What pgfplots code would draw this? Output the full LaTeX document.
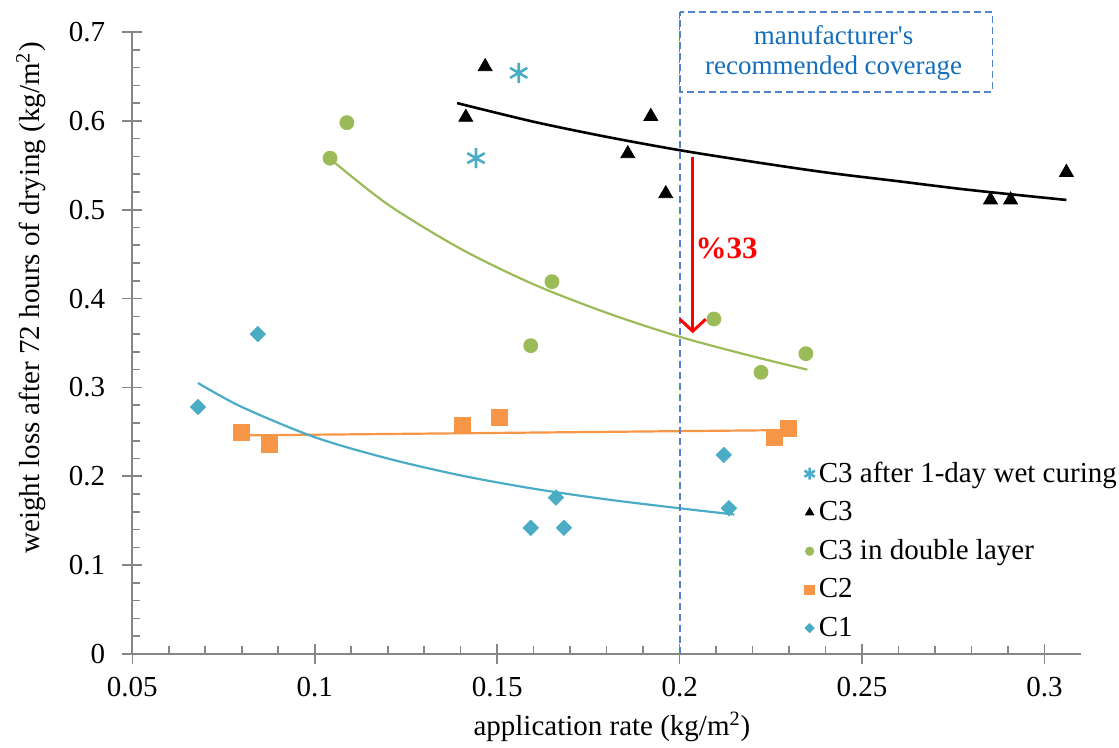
\documentclass[border=0pt]{standalone}
\usepackage{pgfplots}
\pgfplotsset{compat=1.18}
\usepackage{fontspec}
\setmainfont{Liberation Serif}
\usetikzlibrary{arrows.meta}
\definecolor{cteal}{RGB}{75,172,198}
\definecolor{cgreen}{RGB}{155,187,89}
\definecolor{corange}{RGB}{247,150,70}
\definecolor{axgray}{RGB}{134,134,134}
\definecolor{dashblue}{RGB}{80,130,205}
\definecolor{txtblue}{RGB}{20,110,190}
\pgfplotsset{mklegend/.style={legend image code/.code={\draw[##1, every mark/.append style={scale=0.6}] plot coordinates {(0pt,0pt)};}}}
\begin{document}
\begin{tikzpicture}[font=\fontsize{14.5}{17}\selectfont]
\begin{axis}[
  at={(0,0)}, anchor=south west,
  scale only axis, width=474.35pt, height=311pt,
  xmin=0.05, xmax=0.31, ymin=0, ymax=0.7,
  axis x line=bottom, axis y line=left,
  axis line style={-, axgray, line width=0.9pt},
  xtick={0.05,0.1,0.15,0.2,0.25,0.3},
  xticklabels={0.05,0.1,0.15,0.2,0.25,0.3},
  ytick={0,0.1,0.2,0.3,0.4,0.5,0.6,0.7},
  yticklabels={0,0.1,0.2,0.3,0.4,0.5,0.6,0.7},
  minor x tick num=4, minor y tick num=4,
  tick align=center,
  major tick length=10pt, minor tick length=4pt,
  every tick/.style={axgray, line width=0.8pt},
  minor x tick style={yshift=2pt},
  minor y tick style={xshift=2pt},
  xticklabel style={yshift=-3pt},
  yticklabel style={xshift=-5pt},
  scaled ticks=false,
  xlabel={application rate (kg/m\textsuperscript{2})},
  ylabel={weight loss after 72 hours of drying (kg/m\textsuperscript{2})},
  xlabel style={at={(axis description cs:0.5056,-0.1174)}, anchor=center},
  ylabel style={at={(axis description cs:-0.1066,0.5725)}, anchor=center},
  clip=false,
  legend cell align=left,
  legend style={at={(axis cs:0.2341,0.221)}, anchor=north west, draw=none, fill=none,
    row sep=4pt, inner sep=0pt, font=\fontsize{14.5}{17}\selectfont},
]
% trend lines
\addplot[forget plot, black, line width=1.3pt, smooth] coordinates {
 (0.139,0.620) (0.16,0.599) (0.18,0.582) (0.2,0.567) (0.22,0.554) (0.24,0.542) (0.26,0.532) (0.28,0.522) (0.306,0.511)};
\addplot[forget plot, cgreen, line width=1.1pt, smooth] coordinates {
 (0.104,0.558) (0.12,0.506) (0.14,0.456) (0.16,0.416) (0.18,0.384) (0.2,0.357) (0.22,0.335) (0.235,0.320)};
\addplot[forget plot, corange, line width=1.1pt] coordinates {(0.080,0.246) (0.230,0.252)};
\addplot[forget plot, cteal, line width=1.1pt, smooth] coordinates {
 (0.068,0.305) (0.08,0.278) (0.10,0.244) (0.12,0.220) (0.14,0.201) (0.16,0.186) (0.18,0.174) (0.2,0.164) (0.215,0.157)};
% series
\addplot[only marks, mklegend, mark=asterisk, mark size=5pt, cteal, line width=1.3pt] coordinates {
 (0.1559,0.654) (0.1442,0.558)};
\addlegendentry{C3 after 1-day wet curing}
\addplot[only marks, mklegend, mark=triangle*, mark size=4pt, black] coordinates {
 (0.1414,0.604) (0.1467,0.661) (0.1858,0.563) (0.1921,0.605) (0.1962,0.518) (0.2852,0.511) (0.2907,0.511) (0.3060,0.542)};
\addlegendentry{C3}
\addplot[only marks, mklegend, mark=*, mark size=3.5pt, cgreen, mark options={draw=cgreen, fill=cgreen}] coordinates {
 (0.1042,0.558) (0.1088,0.598) (0.165,0.419) (0.1592,0.347) (0.2094,0.377) (0.2223,0.317) (0.2346,0.338)};
\addlegendentry{C3 in double layer}
\addplot[only marks, mklegend, mark=square*, mark size=4pt, corange, mark options={draw=corange, fill=corange}] coordinates {
 (0.0800,0.249) (0.0877,0.236) (0.1406,0.257) (0.1505,0.266) (0.2261,0.244) (0.2299,0.254)};
\addlegendentry{C2}
\addplot[only marks, mklegend, mark=square*, mark size=2.7pt, cteal, mark options={draw=cteal, fill=cteal, rotate=45}] coordinates {
 (0.068,0.278) (0.0844,0.360) (0.1592,0.142) (0.1683,0.142) (0.1661,0.176) (0.2121,0.224) (0.2135,0.164)};
\addlegendentry{C1}
% annotations
\draw[dashblue, dash pattern=on 3.5pt off 2pt, line width=1pt] (axis cs:0.2,0) -- (axis cs:0.2,0.7227);
\draw[dashblue, dash pattern=on 3.5pt off 2pt, line width=0.8pt] (axis cs:0.2,0.7227) rectangle (axis cs:0.2857,0.6325);
\node[txtblue, font=\fontsize{13.5}{15}\selectfont, align=center] at (axis cs:0.2422,0.676) {manufacturer\textquotesingle s\\recommended coverage};
\draw[red, line width=1.5pt, -{Straight Barb[length=6pt,width=13pt]}] (axis cs:0.2036,0.559) -- (axis cs:0.2036,0.361);
\node[red, font=\bfseries\fontsize{15.5}{18}\selectfont] at (axis cs:0.2129,0.457) {\%33};
\end{axis}
\pgfresetboundingbox
\path[use as bounding box] (-66.15pt,-47pt) rectangle (493.35pt,327pt);
\end{tikzpicture}
\end{document}
